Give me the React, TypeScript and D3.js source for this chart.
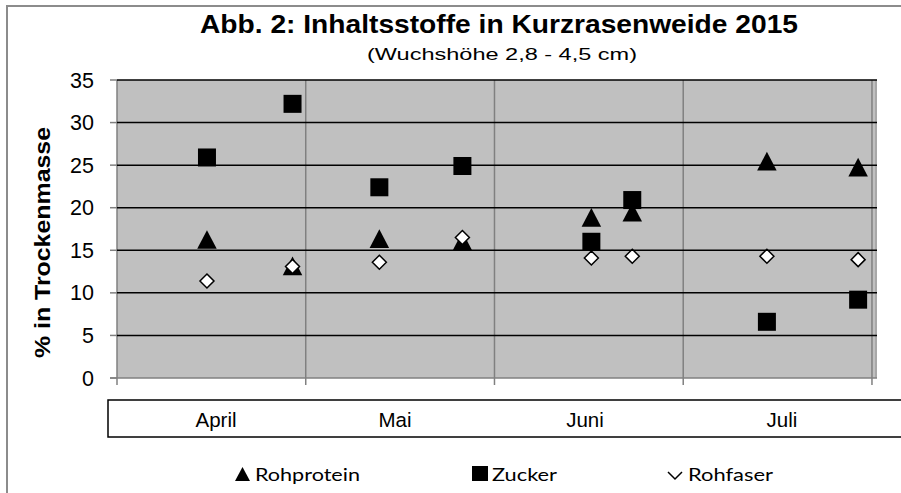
import React, { useEffect, useRef } from "react";
import * as d3 from "d3";

// sampling days, counted from 1 April 2015
const days = [14.3, 27.9, 41.7, 54.9, 75.4, 81.9, 103.3, 117.8];
const rohprotein = [16.2, 13.1, 16.3, 16.0, 18.8, 19.4, 25.4, 24.7];
const zucker = [25.9, 32.2, 22.4, 24.9, 16.0, 20.9, 6.6, 9.2];
const rohfaser = [11.4, 13.1, 13.6, 16.5, 14.1, 14.3, 14.3, 13.9];
const months = ["April", "Mai", "Juni", "Juli"];
const monthStarts = [0, 30, 60, 90, 120];
const yTicks = [0, 5, 10, 15, 20, 25, 30, 35];

const width = 901;
const height = 493;
const arial = "Liberation Sans, Arial, sans-serif";

const App: React.FC = () => {
  const ref = useRef<SVGSVGElement | null>(null);

  useEffect(() => {
    const svg = d3.select(ref.current);
    svg.selectAll("*").remove();

    const left = 117;
    const right = 877;
    const top = 80;
    const bottom = 378;

    const x = d3.scaleLinear().domain([0, 120.8]).range([left, right]);
    const y = d3.scaleLinear().domain([0, 35]).range([bottom, top]);

    // chart frame
    svg
      .append("rect")
      .attr("x", 7)
      .attr("y", 6)
      .attr("width", 910)
      .attr("height", 510)
      .attr("fill", "#fff")
      .attr("stroke", "#8c8c8c")
      .attr("stroke-width", 2);

    // title
    svg
      .append("text")
      .attr("x", 200)
      .attr("y", 33)
      .attr("textLength", 598)
      .attr("lengthAdjust", "spacingAndGlyphs")
      .attr("font-family", arial)
      .attr("font-weight", "bold")
      .attr("font-size", 25)
      .text("Abb. 2: Inhaltsstoffe in Kurzrasenweide 2015");
    svg
      .append("text")
      .attr("x", 367)
      .attr("y", 60)
      .attr("textLength", 270)
      .attr("lengthAdjust", "spacingAndGlyphs")
      .attr("font-family", arial)
      .attr("font-size", 17)
      .text("(Wuchshöhe  2,8 - 4,5 cm)");

    // plot area
    svg
      .append("rect")
      .attr("x", left)
      .attr("y", top)
      .attr("width", right - left)
      .attr("height", bottom - top)
      .attr("fill", "#c0c0c0");
    svg
      .append("line")
      .attr("x1", right - 1)
      .attr("x2", right - 1)
      .attr("y1", top)
      .attr("y2", bottom)
      .attr("stroke", "#a8a8a8")
      .attr("stroke-width", 2);

    // vertical gridlines + ticks
    svg
      .append("g")
      .selectAll("line")
      .data(monthStarts)
      .enter()
      .append("line")
      .attr("x1", (d) => x(d))
      .attr("x2", (d) => x(d))
      .attr("y1", top)
      .attr("y2", bottom + 7)
      .attr("stroke", "#808080")
      .attr("stroke-width", 1.5);

    // horizontal gridlines
    svg
      .append("g")
      .selectAll("line")
      .data(yTicks.filter((d) => d > 0))
      .enter()
      .append("line")
      .attr("x1", left)
      .attr("x2", right)
      .attr("y1", (d) => y(d))
      .attr("y2", (d) => y(d))
      .attr("stroke", "#000")
      .attr("stroke-width", 1.5);

    // bottom edge
    svg
      .append("line")
      .attr("x1", left - 7)
      .attr("x2", right)
      .attr("y1", y(0))
      .attr("y2", y(0))
      .attr("stroke", "#808080")
      .attr("stroke-width", 1.5);

    // y ticks and labels
    const yAxis = svg.append("g");
    yAxis
      .selectAll("line")
      .data(yTicks)
      .enter()
      .append("line")
      .attr("x1", left - 7)
      .attr("x2", left)
      .attr("y1", (d) => y(d))
      .attr("y2", (d) => y(d))
      .attr("stroke", "#808080")
      .attr("stroke-width", 1.5);
    yAxis
      .selectAll("text")
      .data(yTicks)
      .enter()
      .append("text")
      .attr("x", 94)
      .attr("y", (d) => y(d) + 7.5)
      .attr("text-anchor", "end")
      .attr("font-family", arial)
      .attr("font-size", 21.5)
      .text((d) => d);

    svg
      .append("text")
      .attr("transform", "translate(50, 358) rotate(-90)")
      .attr("textLength", 231)
      .attr("lengthAdjust", "spacingAndGlyphs")
      .attr("font-family", arial)
      .attr("font-weight", "bold")
      .attr("font-size", 22)
      .text("% in Trockenmasse");

    // month box
    svg
      .append("rect")
      .attr("x", 108)
      .attr("y", 400)
      .attr("width", 820)
      .attr("height", 37)
      .attr("fill", "#fff")
      .attr("stroke", "#000")
      .attr("stroke-width", 1.5);
    const monthCenters = [216, 395, 585, 782];
    svg
      .append("g")
      .selectAll("text")
      .data(months)
      .enter()
      .append("text")
      .attr("x", (d, i) => monthCenters[i])
      .attr("y", 427)
      .attr("text-anchor", "middle")
      .attr("font-family", arial)
      .attr("font-size", 20.5)
      .text((d) => d);

    // markers
    const tri = d3.symbol().type(d3.symbolTriangle).size(165);
    const diamond = (s: number) => `M0,${-s}L${s},0L0,${s}L${-s},0Z`;
    const plot = svg.append("g");

    plot
      .selectAll(".sq")
      .data(zucker)
      .enter()
      .append("rect")
      .attr("x", (d, i) => x(days[i]) - 9)
      .attr("y", (d) => y(d) - 9)
      .attr("width", 18)
      .attr("height", 18)
      .attr("fill", "#000");

    plot
      .selectAll(".tri")
      .data(rohprotein)
      .enter()
      .append("path")
      .attr("d", tri)
      .attr("transform", (d, i) => `translate(${x(days[i])},${y(d) + 2.5}) scale(1,1.1)`)
      .attr("fill", "#000");

    plot
      .selectAll(".dia")
      .data(rohfaser)
      .enter()
      .append("path")
      .attr("d", diamond(7))
      .attr("transform", (d, i) => `translate(${x(days[i])},${y(d)})`)
      .attr("fill", "#fff")
      .attr("stroke", "#000")
      .attr("stroke-width", 1.5);

    // legend
    const legend = svg.append("g").attr("font-family", "Lato, Open Sans, sans-serif").attr("font-size", 18);
    legend
      .append("path")
      .attr("d", "M235,481L242.5,467L250,481Z")
      .attr("fill", "#000");
    legend
      .append("text")
      .attr("x", 255)
      .attr("y", 481)
      .attr("textLength", 105)
      .attr("lengthAdjust", "spacingAndGlyphs")
      .text("Rohprotein");
    legend.append("rect").attr("x", 472).attr("y", 466).attr("width", 16).attr("height", 15).attr("fill", "#000");
    legend
      .append("text")
      .attr("x", 492)
      .attr("y", 481)
      .attr("textLength", 65)
      .attr("lengthAdjust", "spacingAndGlyphs")
      .text("Zucker");
    legend
      .append("path")
      .attr("d", "M668,472L675,479L682,472")
      .attr("fill", "none")
      .attr("stroke", "#000")
      .attr("stroke-width", 1.5);
    legend
      .append("text")
      .attr("x", 688)
      .attr("y", 481)
      .attr("textLength", 85)
      .attr("lengthAdjust", "spacingAndGlyphs")
      .text("Rohfaser");
  }, []);

  return (
    <svg
      ref={ref}
      width={width}
      height={height}
      style={{ position: "absolute", left: 0, top: 0, display: "block" }}
    ></svg>
  );
};

export default App;
